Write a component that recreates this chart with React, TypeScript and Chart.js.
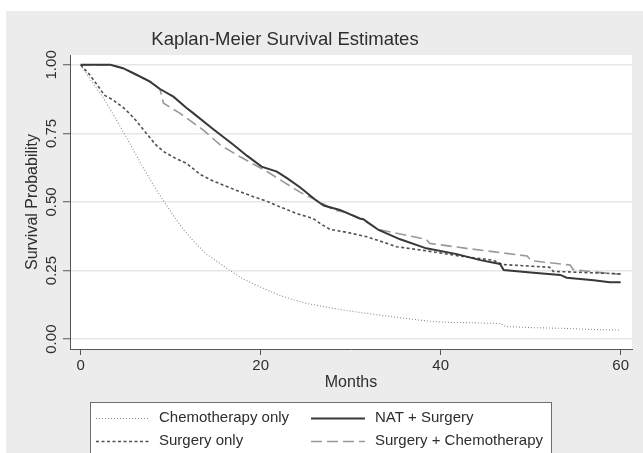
import React, { useEffect, useRef } from 'react';
import { Chart, registerables } from 'chart.js';

Chart.register(...registerables);

const chartTitle = 'Kaplan-Meier Survival Estimates';
const xTitle = 'Months';
const yTitle = 'Survival Probability';
const xTickValues = [0, 20, 40, 60];
const yTickValues = [0, 0.25, 0.5, 0.75, 1];

const seriesNames = ['Chemotherapy only', 'NAT + Surgery', 'Surgery only', 'Surgery + Chemotherapy'];

const chemoMonths = [0, 1.0, 2.5, 3.6, 5.0, 6.6, 8.1, 9.2, 10.2, 11.4, 12.6, 14.0, 15.3, 16.6, 18.0, 19.6, 21.0, 22.1, 23.5, 25.1, 26.8, 28.4, 30.0, 31.8, 33.5, 35.5, 37.5, 39.2, 41.0, 43.0, 46.6, 47.2, 50.0, 54.0, 57.0, 60.0];
const chemoSurv = [1.0, 0.95, 0.88, 0.82, 0.74, 0.645, 0.56, 0.505, 0.455, 0.4, 0.355, 0.31, 0.28, 0.25, 0.22, 0.195, 0.175, 0.16, 0.145, 0.13, 0.12, 0.11, 0.102, 0.094, 0.086, 0.078, 0.07, 0.064, 0.061, 0.06, 0.057, 0.046, 0.042, 0.039, 0.035, 0.033];

const surgMonths = [0, 1.0, 2.1, 2.6, 3.6, 4.8, 5.5, 6.2, 7.3, 8.3, 9.2, 10.5, 11.8, 13.3, 14.5, 15.8, 17.5, 19.2, 20.5, 22.1, 24.0, 25.8, 26.6, 27.7, 29.5, 31.8, 33.5, 35.1, 38.4, 42.1, 45.8, 46.9, 50.0, 52.1, 52.5, 56.0, 60.0];
const surgSurv = [1.0, 0.964, 0.915, 0.89, 0.872, 0.842, 0.82, 0.795, 0.75, 0.71, 0.684, 0.66, 0.64, 0.6, 0.58, 0.562, 0.54, 0.519, 0.505, 0.483, 0.458, 0.44, 0.422, 0.4, 0.39, 0.373, 0.355, 0.337, 0.322, 0.303, 0.288, 0.272, 0.266, 0.262, 0.247, 0.243, 0.238];

const natMonths = [0, 3.3, 4.7, 6.2, 7.7, 8.8, 10.3, 11.8, 12.5, 14.7, 17.0, 18.5, 20.1, 21.8, 23.0, 24.4, 26.0, 27.0, 28.8, 31.0, 31.4, 33.1, 35.5, 38.4, 41.8, 44.4, 46.6, 47.0, 50.3, 53.3, 54.0, 57.0, 58.8, 60.0];
const natSurv = [1.0, 1.0, 0.988, 0.964, 0.939, 0.912, 0.884, 0.842, 0.824, 0.766, 0.708, 0.668, 0.629, 0.611, 0.585, 0.553, 0.51, 0.487, 0.471, 0.44, 0.437, 0.398, 0.364, 0.331, 0.31, 0.288, 0.274, 0.252, 0.242, 0.234, 0.224, 0.215, 0.207, 0.207];

const scMonths = [0, 3.3, 4.7, 6.2, 7.7, 8.8, 9.2, 11.0, 13.6, 15.5, 17.7, 20.7, 24.4, 26.6, 28.1, 29.5, 31.4, 33.1, 35.5, 38.4, 38.8, 42.9, 46.0, 49.6, 50.1, 54.4, 54.7, 57.0, 60.0];
const scSurv = [1.0, 1.0, 0.988, 0.964, 0.939, 0.912, 0.86, 0.824, 0.763, 0.708, 0.665, 0.611, 0.535, 0.5, 0.471, 0.462, 0.434, 0.4, 0.383, 0.364, 0.349, 0.331, 0.318, 0.303, 0.286, 0.27, 0.254, 0.245, 0.236];

const FONT = '"Liberation Sans", Arial, Helvetica, sans-serif';
const BG = '#ececec';
const TXT = '#2e2e2e';

const toPoints = (xs: number[], ys: number[]) => xs.map((x, i) => ({ x, y: ys[i] }));

const decorPlugin = {
  id: 'decor',
  beforeDraw(chart: any) {
    const { ctx, chartArea: a, width, height } = chart;
    ctx.save();
    ctx.fillStyle = '#ffffff';
    ctx.fillRect(0, 0, width, height);
    ctx.fillStyle = BG;
    ctx.fillRect(6, 11, width - 6, height - 11);
    ctx.fillStyle = '#ffffff';
    ctx.fillRect(a.left, a.top, a.right - a.left, a.bottom - a.top);
    ctx.restore();
  },
  afterDraw(chart: any) {
    const { ctx } = chart;
    ctx.save();
    ctx.fillStyle = TXT;
    ctx.font = `18.5px ${FONT}`;
    ctx.textAlign = 'center';
    ctx.textBaseline = 'middle';
    ctx.fillText(chartTitle, 285, 40);

    ctx.fillStyle = '#ffffff';
    ctx.fillRect(90, 402, 462, 60);
    ctx.strokeStyle = '#6e6e6e';
    ctx.lineWidth = 1;
    ctx.strokeRect(90.5, 402.5, 461, 60);

    const cols = [
      { x0: 96, x1: 149, tx: 159 },
      { x0: 311, x1: 365, tx: 375 },
    ];
    const rows = [418, 441];
    seriesNames.forEach((name, k) => {
      const col = cols[k % 2];
      const y = rows[Math.floor(k / 2)];
      const ds = chart.data.datasets.find((d: any) => d.label === name);
      ctx.save();
      ctx.strokeStyle = ds.borderColor;
      ctx.lineWidth = ds.borderWidth;
      ctx.setLineDash(ds.borderDash || []);
      ctx.beginPath();
      ctx.moveTo(col.x0, y + 0.5);
      ctx.lineTo(col.x1, y + 0.5);
      ctx.stroke();
      ctx.restore();
      ctx.fillStyle = TXT;
      ctx.font = `15px ${FONT}`;
      ctx.textAlign = 'left';
      ctx.textBaseline = 'middle';
      ctx.fillText(name, col.tx, y);
    });
    ctx.restore();
  },
};

export default function App() {
  const ref = useRef<HTMLCanvasElement | null>(null);

  useEffect(() => {
    if (!ref.current) return;
    const chart = new Chart(ref.current, {
      type: 'line',
      data: {
        datasets: [
          {
            label: seriesNames[1],
            data: toPoints(natMonths, natSurv),
            borderColor: '#383838',
            borderWidth: 2,
            borderDash: [],
            pointRadius: 0,
            tension: 0,
            fill: false,
          },
          {
            label: seriesNames[2],
            data: toPoints(surgMonths, surgSurv),
            borderColor: '#505050',
            borderWidth: 1.6,
            borderDash: [3, 2.5],
            pointRadius: 0,
            tension: 0,
            fill: false,
          },
          {
            label: seriesNames[3],
            data: toPoints(scMonths, scSurv),
            borderColor: '#999999',
            borderWidth: 1.6,
            borderDash: [11, 5],
            pointRadius: 0,
            tension: 0,
            fill: false,
          },
          {
            label: seriesNames[0],
            data: toPoints(chemoMonths, chemoSurv),
            borderColor: '#8f8f8f',
            borderWidth: 1.1,
            borderDash: [1, 2],
            pointRadius: 0,
            tension: 0,
            fill: false,
          },
        ],
      },
      options: {
        animation: false,
        responsive: false,
        devicePixelRatio: 1,
        layout: { padding: { left: 0, top: 55, right: 11, bottom: 0 } },
        plugins: {
          legend: { display: false },
          title: { display: false },
          tooltip: { enabled: false },
        },
        scales: {
          x: {
            type: 'linear',
            min: -1.19,
            max: 61.26,
            afterBuildTicks: (s: any) => {
              s.ticks = xTickValues.map((v) => ({ value: v }));
            },
            afterFit: (s: any) => {
              s.height = 104;
            },
            grid: {
              drawOnChartArea: false,
              drawTicks: true,
              tickLength: 6,
              tickColor: '#555555',
              tickWidth: 1,
            },
            border: { display: true, color: '#555555', width: 1 },
            ticks: {
              color: TXT,
              font: { family: FONT, size: 15 },
              padding: 2,
              maxRotation: 0,
              callback: (v: any) => String(v),
            },
            title: {
              display: true,
              text: xTitle,
              color: TXT,
              font: { family: FONT, size: 16 },
              padding: { top: 0, bottom: 60.4 },
            },
          },
          y: {
            type: 'linear',
            min: -0.036,
            max: 1.036,
            afterBuildTicks: (s: any) => {
              s.ticks = yTickValues.map((v) => ({ value: v }));
            },
            afterFit: (s: any) => {
              s.width = 70;
            },
            grid: {
              drawOnChartArea: true,
              color: '#e6e6e6',
              lineWidth: 1.5,
              drawTicks: true,
              tickLength: 7,
              tickColor: '#555555',
              tickWidth: 1,
            },
            border: { display: true, color: '#555555', width: 1 },
            ticks: {
              color: TXT,
              font: { family: FONT, size: 15 },
              padding: -3,
              minRotation: 90,
              maxRotation: 90,
              crossAlign: 'center',
              callback: (v: any) => Number(v).toFixed(2),
            },
            title: {
              display: true,
              text: yTitle,
              color: TXT,
              font: { family: FONT, size: 16 },
              padding: { top: 23.4, bottom: 0 },
            },
          },
        },
      },
      plugins: [decorPlugin],
    } as any);
    return () => chart.destroy();
  }, []);

  return (
    <div style={{ position: 'fixed', left: 0, top: 0, width: 643, height: 453 }}>
      <canvas ref={ref} width={643} height={453} style={{ display: 'block' }} />
    </div>
  );
}
